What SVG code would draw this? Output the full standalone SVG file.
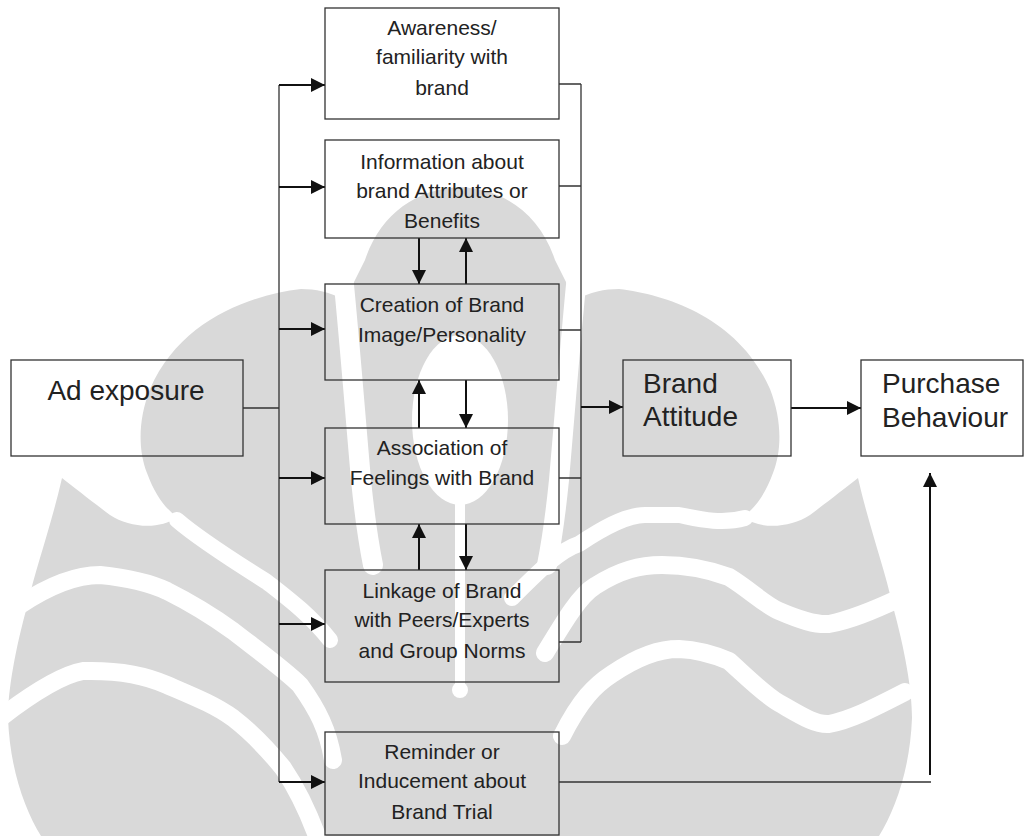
<svg xmlns="http://www.w3.org/2000/svg" width="1024" height="836" viewBox="0 0 1024 836">
<style>
.box{fill:none;stroke:#333;stroke-width:1.3}
.t{font-family:"Liberation Sans",Arial,sans-serif;font-size:21px;fill:#222;text-anchor:middle}
.tb{font-family:"Liberation Sans",Arial,sans-serif;font-size:28px;fill:#222}
.thin{fill:none;stroke:#333;stroke-width:1.3}
.arr{fill:none;stroke:#111;stroke-width:2}
.wm{fill:#d9d9d9}
.gap{fill:none;stroke:#fff;stroke-linecap:round;stroke-linejoin:round}
</style>
<defs>
<marker id="ah" viewBox="0 0 14 14" refX="14" refY="7" markerWidth="14" markerHeight="14" markerUnits="userSpaceOnUse" orient="auto">
<path d="M0,0 L14,7 L0,14 Z" fill="#111"/>
</marker>
<g id="wm-half">
<path class="wm" d="M460,187 C505,189 540,215 555,260 L575,300 C590,292 605,289 619,289 C670,295 740,320 770,389 C782,420 782,450 773,473 C765,495 755,508 743,517 C760,530 790,528 810,515 C830,500 845,488 858,478 C870,530 885,570 892,603 C905,650 912,690 912,718 C910,770 895,810 879,836 L460,836 Z"/>
<path class="gap" stroke-width="20" d="M580,245 C572,320 566,400 559,480 C555,520 551,545 547,565"/>
</g>
</defs>
<g id="watermark">
<use href="#wm-half"/>
<use href="#wm-half" transform="matrix(-1 0 0 1 920 0)"/>
<path class="gap" stroke-width="16" d="M512,598 C540,570 560,550 579,544 C600,530 625,515 645,515 L679,515 C695,518 720,525 745,518"/>
<path class="gap" stroke-width="18" d="M545,653 C565,620 580,595 595,586 C620,570 640,565 662,565 C690,565 710,570 729,577 C750,590 765,605 779,611 C800,620 815,625 829,624 C850,620 870,612 900,598"/>
<path class="gap" stroke-width="18" d="M562,736 C580,700 595,685 612,674 C640,655 660,649 679,649 C700,650 715,655 729,661 C750,680 765,695 779,703 C800,715 815,725 829,724 C850,720 870,710 905,692"/>
<path class="gap" stroke-width="16" d="M177,520 C200,540 240,565 267,582 C290,600 310,615 330,640"/>
<path class="gap" stroke-width="18" d="M20,605 C50,585 75,575 100,575 C130,578 150,583 167,591 C195,605 215,618 233,631 C260,652 285,670 300,685 C318,710 328,730 333,760"/>
<path class="gap" stroke-width="18" d="M0,718 C30,695 60,675 83,671 C120,670 145,675 167,685 C195,697 215,705 233,718 C255,735 270,752 283,768 C298,790 308,812 317,836"/>
<ellipse cx="460" cy="420" rx="48" ry="85" fill="#fff"/>
<path class="gap" stroke-width="10" d="M460,505 V690"/>
<circle cx="460" cy="690" r="8" fill="#fff"/>
</g>

<g id="connectors">
<path class="thin" d="M243,408 H279 M279,85 V782"/>
<path class="thin" d="M559,84 H581 M559,186 H581 M559,330 H581 M559,478 H581 M559,642 H581 M581,84 V642"/>
<path class="thin" d="M559,782 H931"/>
<path class="arr" marker-end="url(#ah)" d="M279,85 H325"/>
<path class="arr" marker-end="url(#ah)" d="M279,187 H325"/>
<path class="arr" marker-end="url(#ah)" d="M279,329 H325"/>
<path class="arr" marker-end="url(#ah)" d="M279,478 H325"/>
<path class="arr" marker-end="url(#ah)" d="M279,624 H325"/>
<path class="arr" marker-end="url(#ah)" d="M279,782 H325"/>
<path class="arr" marker-end="url(#ah)" d="M581,407 H623"/>
<path class="arr" marker-end="url(#ah)" d="M791,408 H861"/>
<path class="arr" marker-end="url(#ah)" d="M930,775 V473"/>
<path class="arr" marker-end="url(#ah)" d="M419,238 V284"/>
<path class="arr" marker-end="url(#ah)" d="M466,284 V238"/>
<path class="arr" marker-end="url(#ah)" d="M419,428 V380"/>
<path class="arr" marker-end="url(#ah)" d="M466,380 V428"/>
<path class="arr" marker-end="url(#ah)" d="M419,570 V524"/>
<path class="arr" marker-end="url(#ah)" d="M466,524 V570"/>
</g>

<g id="ad-exposure">
<rect class="box" x="11" y="360" width="232" height="96"/>
<text class="tb" x="126" y="400" text-anchor="middle">Ad exposure</text>
</g>
<g id="awareness">
<rect class="box" x="325" y="8" width="234" height="111"/>
<text class="t" x="442" y="35">Awareness/</text>
<text class="t" x="442" y="64">familiarity with</text>
<text class="t" x="442" y="95">brand</text>
</g>
<g id="information">
<rect class="box" x="325" y="140" width="234" height="98"/>
<text class="t" x="442" y="169">Information about</text>
<text class="t" x="442" y="198">brand Attributes or</text>
<text class="t" x="442" y="228">Benefits</text>
</g>
<g id="creation">
<rect class="box" x="325" y="284" width="234" height="96"/>
<text class="t" x="442" y="312">Creation of Brand</text>
<text class="t" x="442" y="342">Image/Personality</text>
</g>
<g id="association">
<rect class="box" x="325" y="428" width="234" height="96"/>
<text class="t" x="442" y="455">Association of</text>
<text class="t" x="442" y="485">Feelings with Brand</text>
</g>
<g id="linkage">
<rect class="box" x="325" y="570" width="234" height="112"/>
<text class="t" x="442" y="598">Linkage of Brand</text>
<text class="t" x="442" y="627">with Peers/Experts</text>
<text class="t" x="442" y="658">and Group Norms</text>
</g>
<g id="reminder">
<rect class="box" x="325" y="732" width="234" height="103"/>
<text class="t" x="442" y="759">Reminder or</text>
<text class="t" x="442" y="788">Inducement about</text>
<text class="t" x="442" y="819">Brand Trial</text>
</g>
<g id="brand-attitude">
<rect class="box" x="623" y="360" width="168" height="96"/>
<text class="tb" x="643" y="393">Brand</text>
<text class="tb" x="643" y="426">Attitude</text>
</g>
<g id="purchase-behaviour">
<rect class="box" x="861" y="360" width="162" height="96"/>
<text class="tb" x="882" y="393">Purchase</text>
<text class="tb" x="882" y="427">Behaviour</text>
</g>
</svg>
